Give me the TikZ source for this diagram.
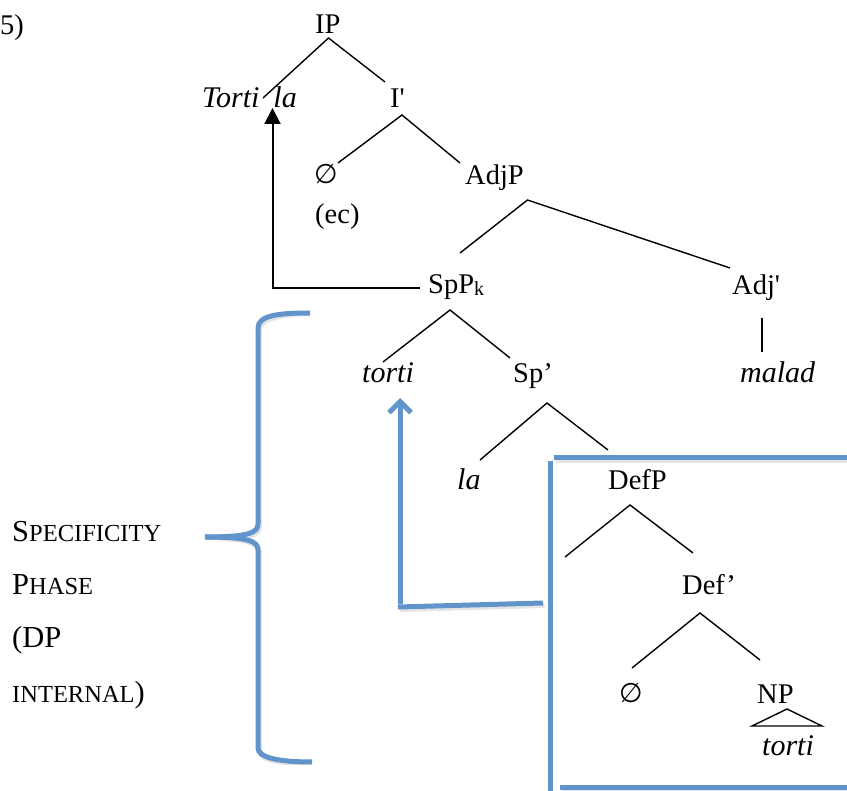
\documentclass[tikz,border=0pt]{standalone}
\usepackage{fontspec}
\setmainfont{Liberation Serif}
\newfontfamily\symfont{DejaVu Sans}
\usetikzlibrary{arrows.meta}
\definecolor{pblue}{RGB}{98,148,204}
\newcommand\fakesc[1]{{\fontsize{24.5}{24}\selectfont #1}}
\newcommand\nullsym{{\symfont\fontsize{27}{27}\selectfont ∅}}
\begin{document}
\begin{tikzpicture}[x=1pt,y=-1pt,
  lbl/.style={inner sep=0pt, anchor=base west, font=\fontsize{28.5}{34}\selectfont},
  ital/.style={inner sep=0pt, anchor=base west, font=\fontsize{30}{34}\selectfont\itshape},
  side/.style={inner sep=0pt, anchor=base west, font=\fontsize{30.5}{34}\selectfont},
  branch/.style={line width=1.4pt, black},
  moveline/.style={line width=2pt, black},
  blueline/.style={line width=5pt, pblue},
  shadowline/.style={line width=5pt, black!30, opacity=0.35}]
\useasboundingbox (0,0) rectangle (847,791);

% ---------- texts ----------
\node[lbl] (five)   at (0,35)    {5)};
\node[lbl] (IP)     at (315,34)  {IP};
\node[ital] (Torti) at (202,108) {Torti\hspace{14pt}la};
\node[lbl] (Ibar)   at (390,108) {I\textquotesingle};
\node[lbl] (null1)  at (314,184) {\nullsym};
\node[lbl] (ec)     at (315,224) {(ec)};
\node[lbl] (AdjP)   at (465,185) {AdjP};
\node[lbl] (SpP)    at (428,294) {SpP\raisebox{-1.5pt}{\fontsize{20}{20}\selectfont k}};
\node[ital] (torti) at (362,383) {torti};
\node[lbl] (Spbar)  at (513,383) {Sp’};
\node[lbl] (Adjbar) at (732,295) {Adj\textquotesingle};
\node[ital] (malad) at (740,383) {malad};
\node[ital] (la)    at (457,490) {la};
\node[lbl] (DefP)   at (608,490) {DefP};
\node[lbl] (Defbar) at (682,595) {Def’};
\node[lbl] (null2)  at (619,702) {\nullsym};
\node[lbl] (NP)     at (757,703) {NP};
\node[ital] (torti2) at (762,755) {torti};

\node[side] (s1) at (12,542) {S\fakesc{PECIFICITY}};
\node[side] (s2) at (12,595) {P\fakesc{HASE}};
\node[side] (s3) at (12,648) {(DP};
\node[side] (s4) at (12,702) {\fakesc{INTERNAL})};

% ---------- branch end points ----------
\coordinate (IPb)   at (328.5,38);
\coordinate (Tt)    at (263,98);
\coordinate (Ibt)   at (385,82);
\coordinate (Ibb)   at (402,115);
\coordinate (n1t)   at (338,163);
\coordinate (AdjPt) at (460,163);
\coordinate (AdjPb) at (527.5,200);
\coordinate (SpPt)  at (460,253);
\coordinate (Adjbt) at (730,268);
\coordinate (SpPb)  at (450,310);
\coordinate (tortit) at (383,362);
\coordinate (Spbt)  at (510,358);
\coordinate (Spbb)  at (547,403);
\coordinate (lat)   at (480,460);
\coordinate (DefPt) at (608,450);
\coordinate (DefPb) at (630,505);
\coordinate (specE) at (565,557);
\coordinate (Defbt) at (693,553);
\coordinate (Defbb) at (700,613);
\coordinate (n2t)   at (632,668);
\coordinate (NPt)   at (760,660);
\coordinate (Adjbb) at (762,318);
\coordinate (maladt) at (762,352);

\draw[branch] (Tt) -- (IPb) -- (Ibt);
\draw[branch] (n1t) -- (Ibb) -- (AdjPt);
\draw[branch] (SpPt) -- (AdjPb) -- (Adjbt);
\draw[branch] (tortit) -- (SpPb) -- (Spbt);
\draw[branch] (lat) -- (Spbb) -- (DefPt);
\draw[branch] (specE) -- (DefPb) -- (Defbt);
\draw[branch] (n2t) -- (Defbb) -- (NPt);
\draw[branch] (Adjbb) -- (maladt);

% NP triangle
\coordinate (triA) at (787,709);
\coordinate (triL) at (752,726);
\coordinate (triR) at (822,726);
\draw[branch, line join=miter] (triA) -- (triL) -- (triR) -- cycle;

% ---------- black movement arrow ----------
\coordinate (mvA) at (420,288);
\coordinate (mvB) at (272.5,288);
\coordinate (mvC) at (272.5,108);
\draw[moveline, -{Triangle[length=16pt,width=16pt]}] (mvA) -- (mvB) -- (mvC);

% ---------- blue brace ----------
\coordinate (brT)  at (310,313);
\coordinate (brM)  at (205,537);
\coordinate (brB)  at (312,762);
\begin{scope}[shift={(1.5,2.5)}]
\draw[shadowline] (brT) .. controls (280,313) and (258,315) .. (258,328) -- (258,524)
      .. controls (258,533) and (248,537) .. (brM);
\draw[shadowline] (brM) .. controls (248,537) and (258,541) .. (258,550) -- (258,748)
      .. controls (258,758) and (280,762) .. (brB);
\draw[shadowline] (543,603) -- (398,607);
\draw[shadowline] (554,458) -- (847,458);
\draw[shadowline] (560,787) -- (847,787);
\end{scope}
\draw[blueline] (brT) .. controls (280,313) and (258,315) .. (258,328) -- (258,524)
      .. controls (258,533) and (248,537) .. (brM);
\draw[blueline] (brM) .. controls (248,537) and (258,541) .. (258,550) -- (258,748)
      .. controls (258,758) and (280,762) .. (brB);

% ---------- blue movement arrow ----------
\coordinate (bmA) at (543,603);
\coordinate (bmB) at (398,607);
\coordinate (bmC) at (400,604);
\coordinate (bmD) at (400,398);
\draw[blueline] (bmA) -- (bmB);
\draw[blueline, -{Straight Barb[length=11pt,width=22pt]}] (bmC) -- (bmD);

% ---------- blue box ----------
\coordinate (bxTL) at (554,458);
\coordinate (bxTR) at (847,458);
\coordinate (bxLT) at (550,461);
\coordinate (bxLB) at (550,791);
\coordinate (bxBL) at (560,787);
\coordinate (bxBR) at (847,787);
\draw[blueline] (bxTL) -- (bxTR);
\draw[blueline] (bxLT) -- (bxLB);
\draw[blueline] (bxBL) -- (bxBR);
\end{tikzpicture}
\end{document}
